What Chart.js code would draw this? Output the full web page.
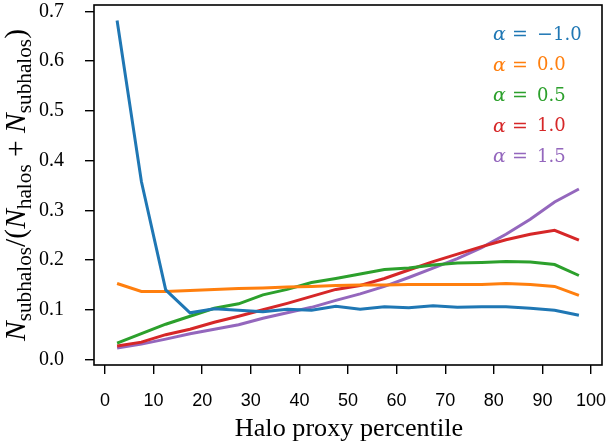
<!DOCTYPE html>
<html>
<head>
<meta charset="utf-8">
<script src="https://cdn.jsdelivr.net/npm/chart.js@4.4.1/dist/chart.umd.min.js"></script>
<style>
html,body{margin:0;padding:0;background:#fff;}
#wrap{width:609px;height:446px;}
</style>
</head>
<body>
<div id="wrap"><canvas id="c" width="609" height="446"></canvas></div>
<script>
const percentiles = [2.5,7.5,12.5,17.5,22.5,27.5,32.5,37.5,42.5,47.5,52.5,57.5,62.5,67.5,72.5,77.5,82.5,87.5,92.5,97.5];
const alphaLabels = ["\u22121.0","0.0","0.5","1.0","1.5"];
const seriesM10 = [0.682,0.358,0.140,0.094,0.102,0.099,0.096,0.101,0.099,0.107,0.101,0.106,0.104,0.108,0.105,0.106,0.106,0.103,0.099,0.089];
const series00  = [0.153,0.137,0.137,0.139,0.141,0.143,0.144,0.146,0.147,0.149,0.150,0.150,0.151,0.151,0.151,0.151,0.153,0.151,0.147,0.129];
const series05  = [0.033,0.052,0.071,0.087,0.103,0.112,0.130,0.141,0.155,0.163,0.172,0.181,0.184,0.190,0.194,0.195,0.197,0.196,0.191,0.169];
const series10  = [0.027,0.035,0.050,0.061,0.075,0.087,0.100,0.113,0.127,0.141,0.149,0.163,0.180,0.197,0.212,0.227,0.241,0.252,0.260,0.240];
const series15  = [0.023,0.031,0.041,0.052,0.061,0.070,0.083,0.094,0.105,0.119,0.132,0.147,0.165,0.184,0.203,0.225,0.252,0.282,0.317,0.343];
const xTicks = [0,10,20,30,40,50,60,70,80,90,100];
const yTicks = [0.0,0.1,0.2,0.3,0.4,0.5,0.6,0.7];

const colors = ["#1f77b4","#ff7f0e","#2ca02c","#d62728","#9467bd"];
const allSeries = [seriesM10,series00,series05,series10,series15];

const datasets = allSeries.map((s,i)=>({
  label: "\u03b1 = " + alphaLabels[i],
  data: s.map((v,j)=>({x:percentiles[j], y:v})),
  borderColor: colors[i],
  backgroundColor: colors[i],
  borderWidth: 3,
  pointRadius: 0,
  tension: 0,
  fill: false
}));

const SERIF = '"Liberation Serif", "DejaVu Serif", serif';
const DSERIF = '"DejaVu Serif", serif';
const SANS = '"Liberation Sans", "DejaVu Sans", sans-serif';

function fitFont(ctx, text, family, style, width){
  ctx.font = style + ' 20px ' + family;
  const w = ctx.measureText(text).width;
  return 20 * width / w;
}

const framePlugin = {
  id:'frame',
  afterDraw(chart){
    const {ctx, chartArea:a} = chart;
    ctx.save();
    ctx.strokeStyle = '#000';
    ctx.lineWidth = 1.6;
    ctx.strokeRect(a.left, a.top, a.right-a.left, a.bottom-a.top);
    ctx.restore();

    // legend text
    ctx.save();
    ctx.textBaseline = 'middle';
    const ly0 = 35, dy = 30.6;
    chart.data.datasets.forEach((d,i)=>{
      const y = ly0 + i*dy;
      ctx.fillStyle = colors[i];
      ctx.font = 'italic 19px ' + DSERIF;
      ctx.fillText('\u03b1', 493, y);
      ctx.font = '19px ' + DSERIF;
      ctx.fillText('=', 512, y);
      ctx.font = '18px ' + DSERIF;
      const lab = alphaLabels[i];
      if (lab.startsWith('\u2212')) {
        ctx.font = '19px ' + DSERIF;
        ctx.fillText('\u2212', 537, y);
        ctx.font = '18px ' + DSERIF;
        ctx.fillText(lab.slice(1), 553, y);
      } else {
        ctx.fillText(lab, 537, y);
      }
    });
    ctx.restore();

    // x title
    ctx.save();
    ctx.fillStyle = '#000';
    const xt = 'Halo proxy percentile';
    const fs = fitFont(ctx, xt, SERIF, '', 228);
    ctx.font = fs.toFixed(1) + 'px ' + SERIF;
    ctx.textAlign = 'center';
    ctx.textBaseline = 'middle';
    ctx.fillText(xt, 349, 429);
    ctx.restore();

    // y title with subscripts
    ctx.save();
    ctx.translate(17, 185);
    ctx.rotate(-Math.PI/2);
    ctx.fillStyle = '#000';
    ctx.textBaseline = 'middle';
    const base = 20;
    const parts = [
      ['N','italic',1,0],
      ['subhalos','',0.72,0.3],
      ['/(','',1,0],
      ['N','italic',1,0],
      ['halos','',0.72,0.3],
      [' + ','',1,0],
      ['N','italic',1,0],
      ['subhalos','',0.72,0.3],
      [')','',1,0]
    ];
    const measure = (sz)=>{ let t=0; parts.forEach(p=>{ctx.font=p[1]+' '+(sz*p[2])+'px '+SERIF; t+=ctx.measureText(p[0]).width;}); return t; };
    const sz = base * 312 / measure(base);
    const total = measure(sz);
    let x = -total/2;
    parts.forEach(p=>{ctx.font=p[1]+' '+(sz*p[2])+'px '+SERIF; ctx.fillText(p[0], x, p[3]*sz); x += ctx.measureText(p[0]).width;});
    ctx.restore();
  }
};

new Chart(document.getElementById('c'), {
  type:'line',
  data:{datasets},
  options:{
    responsive:false,
    animation:false,
    layout:{padding:{top:5,right:7,left:0,bottom:0}},
    plugins:{legend:{display:false}, tooltip:{enabled:false}},
    scales:{
      x:{
        type:'linear',
        min:-2.25, max:102.25,
        afterBuildTicks(s){ s.ticks = xTicks.map(v=>({value:v})); },
        afterFit(s){ s.height = 81; s.paddingLeft = 0; s.paddingRight = 0; },
        grid:{drawOnChartArea:false, drawTicks:true, tickLength:9, color:'#000', lineWidth:1.4},
        border:{display:false},
        ticks:{color:'#000', font:{family:SANS, size:18}, padding:16, maxRotation:0, autoSkip:false}
      },
      y:{
        type:'linear',
        min:-0.011, max:0.713,
        afterBuildTicks(s){ s.ticks = yTicks.map(v=>({value:v})); },
        afterFit(s){ s.width = 94; s.paddingTop = 0; s.paddingBottom = 0; },
        grid:{drawOnChartArea:false, drawTicks:true, tickLength:9, color:'#000', lineWidth:1.4},
        border:{display:false},
        ticks:{color:'#000', font:{family:SERIF, size:20}, padding:21, autoSkip:false,
          callback:(v)=>Number(v).toFixed(1)}
      }
    }
  },
  plugins:[framePlugin]
});
</script>
</body>
</html>
